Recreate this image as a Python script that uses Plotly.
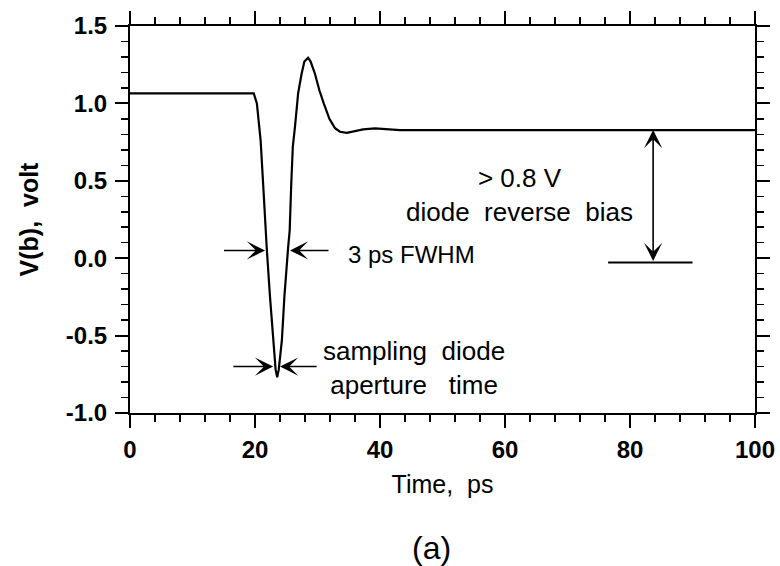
import plotly.graph_objects as go

# ---- data ----
time_ps = [0, 19.8, 20.3, 20.9, 21.3, 21.7, 21.9, 22.4, 22.9, 23.3, 23.55, 23.8,
           24.3, 24.7, 25.3, 25.55, 25.8, 26.05, 26.4, 26.9, 27.45, 27.9, 28.5,
           28.9, 29.6, 30.3, 31.0, 31.9, 32.8, 33.6, 34.7, 35.7, 37.3, 39.2,
           41.1, 43.2, 100]
v_b = [1.065, 1.065, 1.0, 0.76, 0.48, 0.18, 0.05, -0.25, -0.53, -0.72, -0.77, -0.72,
       -0.53, -0.25, 0.07, 0.18, 0.48, 0.72, 0.85, 1.065, 1.19, 1.27, 1.295,
       1.27, 1.19, 1.085, 1.0, 0.90, 0.84, 0.817, 0.81, 0.817, 0.832, 0.839,
       0.832, 0.828, 0.828]

x_ticks = [0, 20, 40, 60, 80, 100]
y_ticks = [-1.0, -0.5, 0.0, 0.5, 1.0, 1.5]
y_tick_text = ["-1.0", "-0.5", "0.0", "0.5", "1.0", "1.5"]

fwhm_y = 0.05
fwhm_left = [14.8, 21.6]     # tail, tip
fwhm_right = [32.0, 25.6]    # tail, tip
aperture_y = -0.70
aperture_left = [16.3, 22.9]
aperture_right = [30.1, 24.0]
bias_x = 83.7
bias_top = 0.828
bias_bottom = -0.027
bias_line_x = [76.5, 90.0]

FONT = "Liberation Sans, Arial, Helvetica, sans-serif"
NB = "\u00a0"

fig = go.Figure()
fig.add_trace(go.Scatter(x=time_ps, y=v_b, mode="lines",
                         line=dict(color="black", width=2.2), showlegend=False,
                         hoverinfo="skip"))
fig.add_trace(go.Scatter(x=bias_line_x, y=[bias_bottom, bias_bottom], mode="lines",
                         line=dict(color="black", width=2), showlegend=False,
                         hoverinfo="skip"))

arrow_common = dict(text="", showarrow=True, arrowhead=3, arrowsize=1.9,
                    arrowwidth=1.6, arrowcolor="black", xref="x", yref="y",
                    axref="x", ayref="y", standoff=0, startstandoff=0)

fig.add_annotation(x=fwhm_left[1], y=fwhm_y, ax=fwhm_left[0], ay=fwhm_y, **arrow_common)
fig.add_annotation(x=fwhm_right[1], y=fwhm_y, ax=fwhm_right[0], ay=fwhm_y, **arrow_common)
fig.add_annotation(x=aperture_left[1], y=aperture_y, ax=aperture_left[0], ay=aperture_y, **arrow_common)
fig.add_annotation(x=aperture_right[1], y=aperture_y, ax=aperture_right[0], ay=aperture_y, **arrow_common)
bias_arrow = dict(arrow_common)
bias_arrow["arrowside"] = "end+start"
fig.add_annotation(x=bias_x, y=bias_top, ax=bias_x, ay=bias_bottom, **bias_arrow)

text_font = dict(family=FONT, size=26, color="black")
fig.add_annotation(x=34.5, y=0.023, xref="x", yref="y", text="3 ps FWHM",
                   showarrow=False, xanchor="left", yanchor="middle",
                   font=dict(family=FONT, size=24, color="black"))
fig.add_annotation(x=45.4, y=-0.708, xref="x", yref="y",
                   text=f"sampling{NB}{NB}diode<br>aperture{NB}{NB}{NB}time",
                   showarrow=False, xanchor="center", yanchor="middle", font=text_font)
fig.add_annotation(x=62.3, y=0.41, xref="x", yref="y",
                   text=f"> 0.8 V<br>diode{NB}{NB}reverse{NB}{NB}bias",
                   showarrow=False, xanchor="center", yanchor="middle", font=text_font)
fig.add_annotation(x=0.483, y=-0.35, xref="paper", yref="paper", text="(a)",
                   showarrow=False, xanchor="center", yanchor="middle",
                   font=dict(family=FONT, size=32, color="black"))

axis_common = dict(showline=True, linecolor="black", linewidth=2, mirror="allticks",
                   ticks="outside", ticklen=13, tickwidth=2, tickcolor="black",
                   showgrid=False, zeroline=False, automargin=False,
                   tickfont=dict(family=FONT, size=24, color="black", weight="bold"))

fig.update_xaxes(range=[0, 100], tickvals=x_ticks, ticktext=[str(t) for t in x_ticks],
                 minor=dict(dtick=4, tick0=0, ticks="outside", ticklen=7, tickwidth=1.5,
                            tickcolor="black", showgrid=False),
                 title=dict(text=f"Time,{NB}{NB}ps", font=dict(family=FONT, size=25, color="black"),
                            standoff=14),
                 ticklabelstandoff=1,
                 **axis_common)
fig.update_yaxes(range=[-1.0, 1.5], tickvals=y_ticks, ticktext=y_tick_text,
                 minor=dict(dtick=0.1, tick0=0, ticks="outside", ticklen=7, tickwidth=1.5,
                            tickcolor="black", showgrid=False),
                 title=dict(text=f"V(b),{NB}{NB}volt",
                            font=dict(family=FONT, size=25, color="black", weight="bold"),
                            standoff=20),
                 ticklabelstandoff=3,
                 **axis_common)

fig.update_layout(width=780, height=566, plot_bgcolor="white", paper_bgcolor="white",
                  margin=dict(l=130, r=25, t=26, b=153, autoexpand=False), showlegend=False)

# remove the page's default body margin so the figure sits at the window's corner
fig.write_html("out.html", config={"displayModeBar": False, "staticPlot": True},
               post_script="document.body.style.margin='0px';"
                           "document.body.style.overflow='hidden';")
